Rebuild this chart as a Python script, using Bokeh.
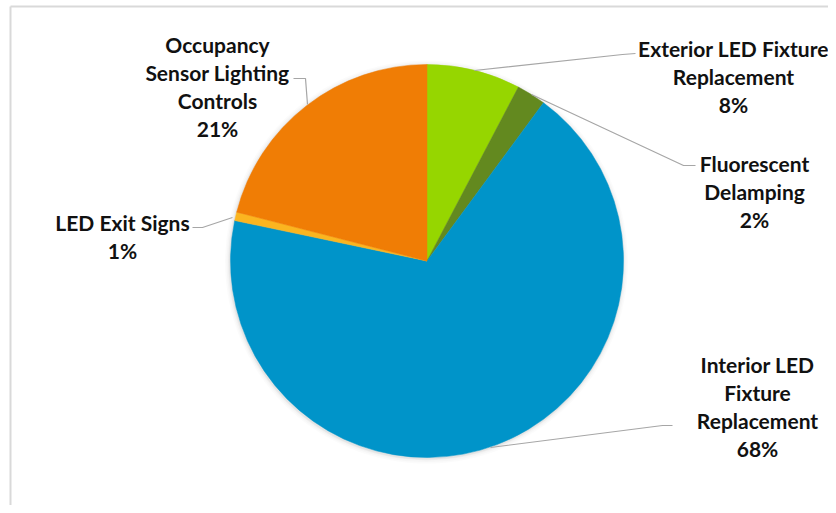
import numpy as np
from bokeh.plotting import figure
from bokeh.models import Range1d
from bokeh.core.properties import value
from bokeh.embed import file_html
from bokeh.resources import INLINE

# ---- data ----
categories = ["Exterior LED Fixture Replacement", "Fluorescent Delamping",
              "Interior LED Fixture Replacement", "LED Exit Signs",
              "Occupancy Sensor Lighting Controls"]
label_lines = [["Exterior LED Fixture", "Replacement"],
               ["Fluorescent", "Delamping"],
               ["Interior LED", "Fixture", "Replacement"],
               ["LED Exit Signs"],
               ["Occupancy", "Sensor Lighting", "Controls"]]
shares = [7.7, 2.4, 68.2, 0.7, 21.0]
colors = ["#96D600", "#63891F", "#0094C9", "#FBB520", "#F07D05"]

# ---- layout (picture pixel coordinates) ----
W, H = 828, 505
def px(x):
    return x
def py(y):
    return H - y

cx, cy, r = px(426.5), py(260.5), 196.5
label_pos = [(733, 48), (754, 163), (757, 364), (122, 222), (217, 44)]
leaders = [[(474, 70), (622, 54), (635, 53)],
           [(531, 94), (683, 165), (695, 165)],
           [(490, 447), (662, 425), (672, 425)],
           [(232, 217), (202, 227), (192, 227)],
           [(307, 104), (305, 78), (293, 78)]]
line_step = 28

p = figure(width=W, height=H, x_range=Range1d(0, W), y_range=Range1d(0, H),
           output_backend="svg", toolbar_location=None, min_border=0,
           x_axis_location=None, y_axis_location=None)
p.grid.visible = False
p.outline_line_color = None
p.background_fill_color = "white"
p.border_fill_color = "white"

# chart area border (left and top)
p.line([px(10), px(10)], [0, py(6)], line_color="#D9D9D9", line_width=2)
p.line([px(10), W], [py(6), py(6)], line_color="#D9D9D9", line_width=2)

# soft shadow
for k, a in zip([5, 3.5, 2, 1], [0.015, 0.02, 0.03, 0.04]):
    p.circle(x=[cx - 0.5], y=[cy - 1], radius=r + k, fill_color="black",
             fill_alpha=a, line_color=None)

frac = np.concatenate([[0], np.cumsum(shares)]) / sum(shares)
start = np.pi / 2 - 2 * np.pi * frac[1:]
end = np.pi / 2 - 2 * np.pi * frac[:-1]
p.wedge(x=cx, y=cy, radius=r, start_angle=list(start), end_angle=list(end),
        fill_color=colors, line_color=colors, line_width=0.5, direction="anticlock")

# leader lines
p.multi_line(xs=[[px(a) for a, b in L] for L in leaders],
             ys=[[py(b) for a, b in L] for L in leaders],
             line_color="#A6A6A6", line_width=1.2)

# labels
tx, ty, tt = [], [], []
for lines, s, (lx, ly) in zip(label_lines, shares, label_pos):
    all_lines = lines + [f"{round(s)}%"]
    for i, t in enumerate(all_lines):
        tx.append(px(lx))
        ty.append(py(ly + i * line_step))
        tt.append(t)
p.text(x=tx, y=ty, text=tt, text_font=value("Lato"), text_font_style="bold",
       text_font_size="21px", text_align="center", text_baseline="middle",
       text_color="#111111")

open("out.html", "w").write(file_html(p, INLINE))
